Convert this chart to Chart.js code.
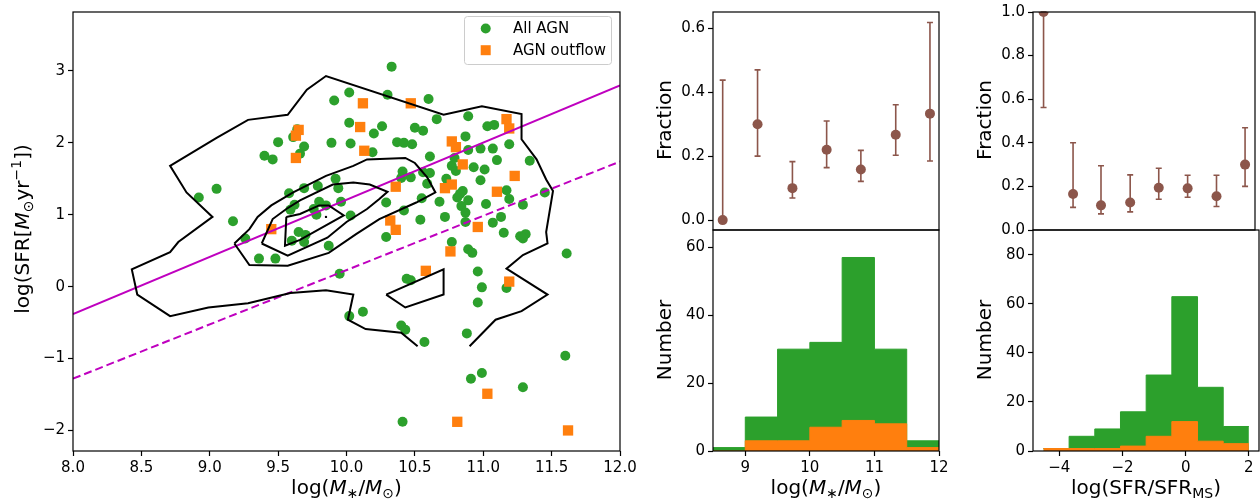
<!DOCTYPE html>
<html>
<head>
<meta charset="utf-8">
<script src="https://cdn.jsdelivr.net/npm/chart.js@4.4.0/dist/chart.umd.min.js"></script>
<style>
  body { margin: 0; background: #fff; }
  #wrap { position: relative; width: 1260px; height: 503px; overflow: hidden; }
  .box { position: absolute; }
</style>
</head>
<body>
<div id="wrap">
  <div class="box" style="left:0;top:0;width:640px;height:503px"><canvas id="main"></canvas></div>
  <div class="box" style="left:640px;top:0;width:320px;height:260px"><canvas id="fracMass"></canvas></div>
  <div class="box" style="left:640px;top:200px;width:320px;height:303px"><canvas id="histMass"></canvas></div>
  <div class="box" style="left:960px;top:0;width:300px;height:260px"><canvas id="fracSsfr"></canvas></div>
  <div class="box" style="left:960px;top:200px;width:300px;height:303px"><canvas id="histSsfr"></canvas></div>
</div>
<script>
// --- main panel: log M* vs log SFR ---
const agnMass = [10.33,10.02,9.91,10.30,10.60,10.66,10.89,10.02,10.26,10.20,10.50,10.56,11.03,11.08,9.89,10.03,10.37,10.42,10.48,10.87,
  10.98,11.07,11.19,10.19,10.61,10.89,10.79,11.10,11.34,10.77,10.80,10.93,11.01,10.41,10.61,10.56,10.73,10.98,10.40,10.47,
  10.59,9.92,9.94,9.79,9.69,9.58,10.85,10.83,10.81,10.89,11.17,11.19,11.29,11.45,10.68,10.55,10.29,9.96,10.84,10.87,
  10.42,10.03,10.72,10.54,10.87,11.02,11.07,11.13,11.15,11.27,11.31,11.29,10.29,10.77,10.89,10.92,11.61,9.87,9.76,9.80,
  9.85,9.78,9.65,9.70,9.60,9.69,9.69,9.64,9.61,9.50,9.66,9.40,9.46,9.62,9.59,9.05,8.92,9.17,9.26,9.36,
  9.48,9.95,10.02,10.12,10.44,10.47,10.96,10.99,11.17,10.96,10.40,10.43,10.57,10.88,11.60,10.99,10.91,11.29,10.41];
const agnSfr = [3.06,2.70,2.59,2.67,2.61,2.33,2.37,2.28,2.23,2.13,2.21,2.17,2.23,2.25,2.00,1.99,2.01,2.00,1.98,2.09,
  1.92,1.92,1.98,1.87,1.81,1.90,1.79,1.76,1.75,1.68,1.61,1.66,1.63,1.60,1.58,1.59,1.50,1.48,1.51,1.52,
  1.43,1.50,1.37,1.40,1.37,1.30,1.33,1.29,1.24,1.20,1.34,1.22,1.14,1.31,1.18,1.23,1.17,1.18,1.12,1.03,
  1.06,0.99,0.97,0.93,0.90,1.15,0.89,0.97,0.75,0.70,0.73,0.67,0.69,0.62,0.52,0.47,0.46,0.57,1.08,1.18,
  1.13,1.00,0.76,0.72,0.64,0.62,1.95,2.19,2.08,2.01,1.85,1.82,1.77,1.14,1.07,1.36,1.24,0.91,0.67,0.39,
  0.39,0.18,-0.41,-0.35,0.11,0.09,0.21,-0.01,-0.02,-0.22,-0.54,-0.60,-0.77,-0.65,-0.96,-1.20,-1.28,-1.40,-1.88];
const outMass = [9.65,9.63,9.63,9.45,10.12,10.47,10.10,10.13,11.17,11.19,10.77,10.80,10.85,11.23,10.77,10.72,10.36,11.10,
  10.32,10.36,10.96,10.76,10.58,11.19,11.03,10.81,11.62];
const outSfr = [2.18,2.10,1.79,0.80,2.55,2.55,2.22,1.89,2.33,2.20,2.02,1.94,1.70,1.54,1.42,1.37,1.39,1.32,
  0.92,0.79,0.83,0.49,0.22,0.07,-1.49,-1.88,-2.00];

// main-sequence line and the line below it (end points)
const msLine = [[8.0, -0.38], [12.0, 2.80]];
const msLowLine = [[8.0, -1.28], [12.0, 1.74]];

// density contours of the comparison sample
const contourOuter = [[10.90,-0.83],[11.09,-0.46],[11.28,-0.34],[11.47,-0.11],[11.17,0.25],[11.29,0.44],[11.47,0.60],
  [11.46,0.76],[11.51,1.33],[11.46,1.49],[11.39,1.77],[11.28,2.05],[11.28,2.40],[10.99,2.51],[10.71,2.39],[9.85,2.93],
  [9.71,2.74],[9.57,2.39],[9.28,2.32],[9.05,2.07],[8.71,1.68],[8.83,1.31],[9.02,0.97],[8.77,0.62],[8.71,0.48],
  [8.43,0.24],[8.47,-0.11],[8.71,-0.41],[8.99,-0.29],[9.28,-0.23],[9.59,-0.09],[9.85,-0.05],[10.05,-0.11],
  [10.01,-0.46],[10.14,-0.59],[10.40,-0.64],[10.52,-0.83]];
const contourIsland = [[10.29,-0.11],[10.71,0.24],[10.71,-0.11],[10.43,-0.29],[10.29,-0.11]];
const contourMid = [[9.18,0.60],[9.29,0.80],[9.35,0.97],[9.45,1.13],[9.61,1.31],[9.85,1.54],[10.05,1.68],[10.15,1.77],
  [10.43,1.79],[10.50,1.72],[10.59,1.52],[10.65,1.31],[10.51,1.17],[10.24,0.94],[10.07,0.73],[9.87,0.47],[9.57,0.29],
  [9.29,0.30],[9.18,0.60]];
const contourInner = [[9.38,0.60],[9.46,0.94],[9.56,1.08],[9.66,1.20],[9.90,1.42],[10.05,1.45],[10.17,1.42],[10.30,1.32],
  [10.24,1.22],[10.15,1.08],[10.00,0.90],[9.86,0.68],[9.57,0.43],[9.38,0.60]];
const contourCore = [[9.56,0.97],[9.66,1.01],[9.80,1.13],[9.87,1.13],[9.98,0.99],[9.83,0.83],[9.66,0.65],[9.55,0.57],[9.56,0.97]];
const contourPeak = [[9.85, 0.97]];

const massTicks = [8.0, 8.5, 9.0, 9.5, 10.0, 10.5, 11.0, 11.5, 12.0];
const sfrTicks = [-2, -1, 0, 1, 2, 3];

// --- middle column: vs stellar mass ---
const massEdges = [8.5, 9.0, 9.5, 10.0, 10.5, 11.0, 11.5, 12.0];
const massAll = [1, 10, 30, 32, 57, 30, 3];
const massOut = [0, 3, 3, 7, 9, 8, 1];
const massFracX = [8.65, 9.19, 9.73, 10.26, 10.79, 11.33, 11.86];
const massFrac = [0.0, 0.30, 0.10, 0.22, 0.158, 0.267, 0.333];
const massFracLo = [0.0, 0.20, 0.069, 0.164, 0.121, 0.203, 0.185];
const massFracHi = [0.438, 0.470, 0.183, 0.31, 0.218, 0.361, 0.618];
const massHistTicks = [9, 10, 11, 12];

// --- right column: vs distance from main sequence ---
const ssfrEdges = [-4.5, -3.6875, -2.875, -2.0625, -1.25, -0.4375, 0.375, 1.1875, 2.0];
const ssfrAll = [1, 6, 9, 16, 31, 63, 26, 10];
const ssfrOut = [1, 1, 1, 2, 6, 12, 4, 3];
const ssfrFracX = [-4.49, -3.54, -2.64, -1.70, -0.78, 0.15, 1.08, 2.0];
const ssfrFrac = [1.0, 0.165, 0.113, 0.126, 0.194, 0.191, 0.155, 0.30];
const ssfrFracLo = [0.562, 0.104, 0.074, 0.083, 0.141, 0.150, 0.108, 0.20];
const ssfrFracHi = [1.0, 0.40, 0.295, 0.253, 0.283, 0.251, 0.251, 0.469];
const ssfrHistTicks = [-4, -2, 0, 2];

const GREEN = '#2ca02c', ORANGE = '#ff7f0e', BROWN = '#8c564b', MAGENTA = '#bf00bf';
const FONT = '"DejaVu Sans"';

Chart.defaults.font.family = FONT;
Chart.defaults.color = '#000';

const pts = (xs, ys) => xs.map((x, i) => ({ x: x, y: ys[i] }));
const xy = arr => arr.map(p => ({ x: p[0], y: p[1] }));
const steps = (edges, counts) => edges.map((e, i) => ({ x: e, y: counts[Math.min(i, counts.length - 1)] }));
const minus = v => String(v).replace('-', '\u2212');

function axis(min, max, ticks, fmt, fit) {
    return {
        type: 'linear', min: min, max: max,
        afterBuildTicks: s => { s.ticks = ticks.map(v => ({ value: v })); },
        afterFit: fit,
        ticks: { callback: fmt, font: { size: 15 }, color: '#000', padding: 3, maxRotation: 0, autoSkip: false },
        grid: { drawOnChartArea: false, tickLength: 5, color: '#000', tickWidth: 1.2 },
        border: { display: false }
    };
}
const hiddenX = (min, max) => ({ type: 'linear', min: min, max: max, display: false });

// draws text with italic / sub / superscript runs
function drawRich(ctx, parts, x, y, rot, size) {
    ctx.save();
    ctx.translate(x, y);
    if (rot) ctx.rotate(-Math.PI / 2);
    const fontOf = p => (p.it ? 'italic ' : '') + (p.sub || p.sup ? Math.round(size * 0.7) : size) + 'px ' + FONT;
    let w = 0;
    parts.forEach(p => { ctx.font = fontOf(p); w += ctx.measureText(p.t).width; });
    let cx = -w / 2;
    ctx.fillStyle = '#000';
    ctx.textBaseline = 'alphabetic';
    parts.forEach(p => {
        ctx.font = fontOf(p);
        const dy = p.sub ? size * 0.22 : (p.sup ? -size * 0.42 : 0);
        ctx.fillText(p.t, cx, dy);
        cx += ctx.measureText(p.t).width;
    });
    ctx.restore();
}

const framePlugin = {
    id: 'frame',
    afterDraw(chart, args, opts) {
        const { ctx, chartArea: a } = chart;
        ctx.save();
        ctx.strokeStyle = '#000';
        ctx.lineWidth = 1.2;
        ctx.strokeRect(a.left, a.top, a.right - a.left, a.bottom - a.top);
        (opts.labels || []).forEach(l => drawRich(ctx, l.parts, l.x, l.y, l.rot, 20));
        ctx.restore();
    }
};

const errPlugin = {
    id: 'errbars',
    beforeDatasetsDraw(chart, args, opts) {
        if (!opts.x) return;
        const { ctx, scales } = chart;
        ctx.save();
        ctx.strokeStyle = opts.color;
        ctx.lineWidth = 1.6;
        opts.x.forEach((v, i) => {
            const px = scales.x.getPixelForValue(v);
            const p1 = scales.y.getPixelForValue(opts.lo[i]);
            const p2 = scales.y.getPixelForValue(opts.hi[i]);
            ctx.beginPath();
            ctx.moveTo(px, p1); ctx.lineTo(px, p2);
            ctx.moveTo(px - 3, p1); ctx.lineTo(px + 3, p1);
            ctx.moveTo(px - 3, p2); ctx.lineTo(px + 3, p2);
            ctx.stroke();
        });
        ctx.restore();
    }
};

const legendPlugin = {
    id: 'boxLegend',
    afterDraw(chart) {
        const ctx = chart.ctx;
        const items = chart.data.datasets.filter(d => d.inLegend).reverse();
        ctx.save();
        ctx.beginPath();
        ctx.roundRect(464.5, 16.5, 147, 48, 3);
        ctx.fillStyle = 'rgba(255,255,255,0.8)';
        ctx.fill();
        ctx.strokeStyle = '#cccccc';
        ctx.lineWidth = 1;
        ctx.stroke();
        ctx.font = '15px ' + FONT;
        ctx.textBaseline = 'middle';
        items.forEach((d, i) => {
            const y = 28.5 + i * 21.7;
            ctx.fillStyle = d.backgroundColor;
            ctx.beginPath();
            if (d.pointStyle === 'rect') ctx.rect(480.7, y - 5, 10, 10);
            else ctx.arc(485.7, y, 5, 0, Math.PI * 2);
            ctx.fill();
            ctx.fillStyle = '#000';
            ctx.fillText(d.label, 513, y + 1);
        });
        ctx.restore();
    }
};

const lineSet = (data, color, width, dash) => ({
    data: data, showLine: true, borderColor: color, borderWidth: width, borderDash: dash || [],
    pointRadius: 0, fill: false, tension: 0
});

const base = {
    responsive: true, maintainAspectRatio: false, animation: false, devicePixelRatio: 1,
    events: []
};

const mLabel = [{ t: 'log(' }, { t: 'M', it: 1 }, { t: '\u2217', sub: 1 }, { t: '/' }, { t: 'M', it: 1 }, { t: '\u2299', sub: 1 }, { t: ')' }];
const sfrLabel = [{ t: 'log(SFR[' }, { t: 'M', it: 1 }, { t: '\u2299', sub: 1 }, { t: 'yr' }, { t: '\u22121', sup: 1 }, { t: '])' }];
const ssfrLabel = [{ t: 'log(SFR/SFR' }, { t: 'MS', sub: 1 }, { t: ')' }];

new Chart(document.getElementById('main'), {
    type: 'scatter',
    data: {
        datasets: [
            lineSet(xy(contourOuter), '#000', 2),
            lineSet(xy(contourIsland), '#000', 2),
            lineSet(xy(contourMid), '#000', 2),
            lineSet(xy(contourInner), '#000', 2),
            lineSet(xy(contourCore), '#000', 2),
            { data: xy(contourPeak), pointRadius: 1.2, backgroundColor: '#000', borderWidth: 0 },
            lineSet(xy(msLine), MAGENTA, 2),
            lineSet(xy(msLowLine), MAGENTA, 2, [8, 4]),
            { label: 'AGN outflow', inLegend: true, data: pts(outMass, outSfr), pointStyle: 'rect', pointRadius: 7.3,
              backgroundColor: ORANGE, borderWidth: 0 },
            { label: 'All AGN', inLegend: true, data: pts(agnMass, agnSfr), pointStyle: 'circle', pointRadius: 5,
              backgroundColor: GREEN, borderWidth: 0 }
        ]
    },
    options: Object.assign({}, base, {
        layout: { padding: { left: 0, right: 20, top: 8, bottom: 0 } },
        scales: {
            x: axis(8.0, 12.0, massTicks, v => v.toFixed(1), s => { s.height = 52; }),
            y: axis(-2.286, 3.82, sfrTicks, minus, s => { s.width = 73; })
        },
        plugins: {
            legend: { display: false }, tooltip: { enabled: false },
            frame: { labels: [
                { parts: mLabel, x: 346.5, y: 494, rot: false },
                { parts: sfrLabel, x: 29, y: 229, rot: true }
            ] }
        }
    }),
    plugins: [framePlugin, legendPlugin]
});

function fracChart(id, xMin, xMax, yMin, yMax, yTicks, fx, fy, lo, hi, padRight) {
    new Chart(document.getElementById(id), {
        type: 'scatter',
        data: { datasets: [{ data: pts(fx, fy), pointRadius: 5, backgroundColor: BROWN, borderWidth: 0 }] },
        options: Object.assign({}, base, {
            layout: { padding: { left: 0, right: padRight, top: 8, bottom: 30 } },
            scales: {
                x: hiddenX(xMin, xMax),
                y: axis(yMin, yMax, yTicks, v => v.toFixed(1), s => { s.width = 73; })
            },
            plugins: {
                legend: { display: false }, tooltip: { enabled: false },
                errbars: { x: fx, lo: lo, hi: hi, color: BROWN },
                frame: { labels: [{ parts: [{ t: 'Fraction' }], x: 31, y: 120, rot: true }] }
            }
        }),
        plugins: [errPlugin, framePlugin]
    });
}

function histChart(id, xMin, xMax, xTicks, yMax, yTicks, edges, all, out, xParts, padRight) {
    const stepSet = (counts, color) => ({
        data: steps(edges, counts), showLine: true, stepped: 'before', fill: 'origin',
        backgroundColor: color, borderColor: color, borderWidth: 1, pointRadius: 0
    });
    new Chart(document.getElementById(id), {
        type: 'scatter',
        data: { datasets: [stepSet(out, ORANGE), stepSet(all, GREEN)] },
        options: Object.assign({}, base, {
            layout: { padding: { left: 0, right: padRight, top: 30, bottom: 0 } },
            scales: {
                x: axis(xMin, xMax, xTicks, minus, s => { s.height = 52; }),
                y: axis(0, yMax, yTicks, minus, s => { s.width = 73; })
            },
            plugins: {
                legend: { display: false }, tooltip: { enabled: false },
                frame: { labels: [
                    { parts: [{ t: 'Number' }], x: 31, y: 140, rot: true },
                    { parts: xParts, x: 186, y: 294, rot: false }
                ] }
            }
        }),
        plugins: [framePlugin]
    });
}

fracChart('fracMass', 8.5, 12.0, -0.031, 0.651, [0, 0.2, 0.4, 0.6], massFracX, massFrac, massFracLo, massFracHi, 21);
histChart('histMass', 8.5, 12.0, massHistTicks, 65.1, [0, 20, 40, 60], massEdges, massAll, massOut, mLabel, 21);
fracChart('fracSsfr', -4.83, 2.32, 0, 1.0, [0, 0.2, 0.4, 0.6, 0.8, 1.0], ssfrFracX, ssfrFrac, ssfrFracLo, ssfrFracHi, 1);
histChart('histSsfr', -4.83, 2.32, ssfrHistTicks, 90.2, [0, 20, 40, 60, 80], ssfrEdges, ssfrAll, ssfrOut, ssfrLabel, 1);
</script>
</body>
</html>
